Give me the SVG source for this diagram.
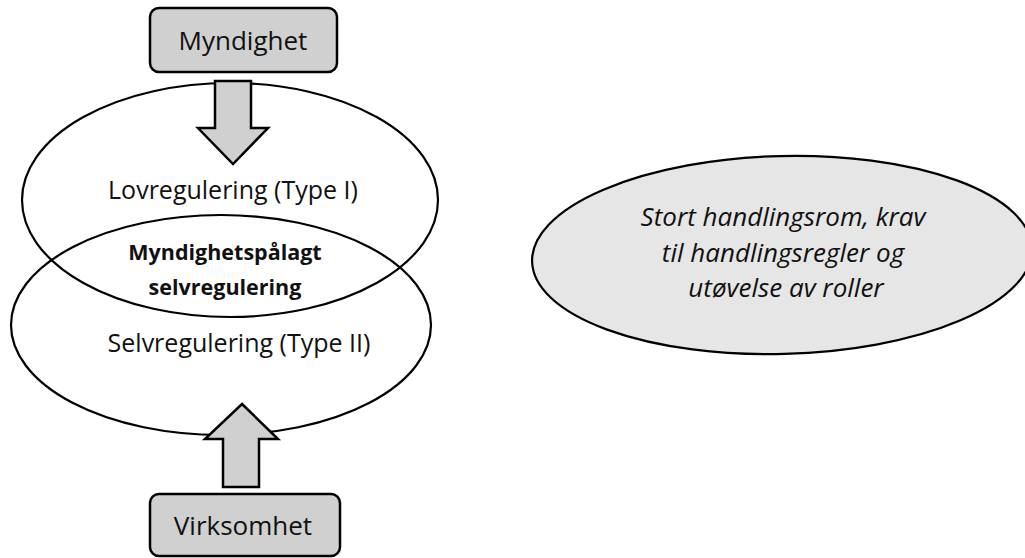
<svg xmlns="http://www.w3.org/2000/svg" width="1025" height="558" viewBox="0 0 1025 558">
  <style>
    .box { fill: #d0d0d0; stroke: #000; stroke-width: 2.5; }
    .ring { fill: none; stroke: #000; stroke-width: 2.2; }
    .arrow { fill: #d0d0d0; stroke: #000; stroke-width: 2.5; stroke-linejoin: miter; }
    .note { fill: #e6e6e6; stroke: #000; stroke-width: 2.2; }
    text { font-family: "Open Sans", "Liberation Sans", sans-serif; fill: #111; text-anchor: middle; }
    .lbl { font-size: 25px; }
    .head { font-size: 26px; }
    .bold { font-size: 21.5px; font-weight: bold; }
    .it { font-size: 26px; font-style: italic; }
  </style>
  <rect width="1025" height="558" fill="#fff"/>

  <!-- overlapping regulation ellipses -->
  <g id="lovregulering">
    <ellipse class="ring" cx="230" cy="200" rx="208" ry="117"/>
    <text class="lbl" x="233" y="199">Lovregulering (Type I)</text>
  </g>
  <g id="selvregulering">
    <ellipse class="ring" cx="221" cy="325" rx="210" ry="110"/>
    <text class="lbl" x="239" y="352">Selvregulering (Type II)</text>
  </g>
  <g id="overlap">
    <text class="bold" x="225" y="260">Myndighetspålagt</text>
    <text class="bold" x="225" y="295">selvregulering</text>
  </g>

  <!-- block arrows -->
  <g id="connectors">
    <polygon class="arrow" points="215,81 251,81 251,128 268,128 233,164 198,128 215,128"/>
    <polygon class="arrow" points="242,404 278,439 259,439 259,487 223,487 223,439 205,439"/>
  </g>

  <g id="myndighet">
    <rect class="box" x="150" y="8" width="187" height="64" rx="9"/>
    <text class="head" x="243" y="50">Myndighet</text>
  </g>
  <g id="virksomhet">
    <rect class="box" x="150" y="494" width="190" height="62" rx="9"/>
    <text class="head" x="243" y="535">Virksomhet</text>
  </g>

  <!-- note ellipse, runs slightly past the right edge -->
  <g id="handlingsrom">
    <ellipse class="note" cx="782" cy="255" rx="250" ry="99" transform="rotate(-1.5 782 255)"/>
    <text class="it" x="783" y="226">Stort handlingsrom, krav</text>
    <text class="it" x="783" y="262">til handlingsregler og</text>
    <text class="it" x="786" y="297">utøvelse av roller</text>
  </g>
</svg>
